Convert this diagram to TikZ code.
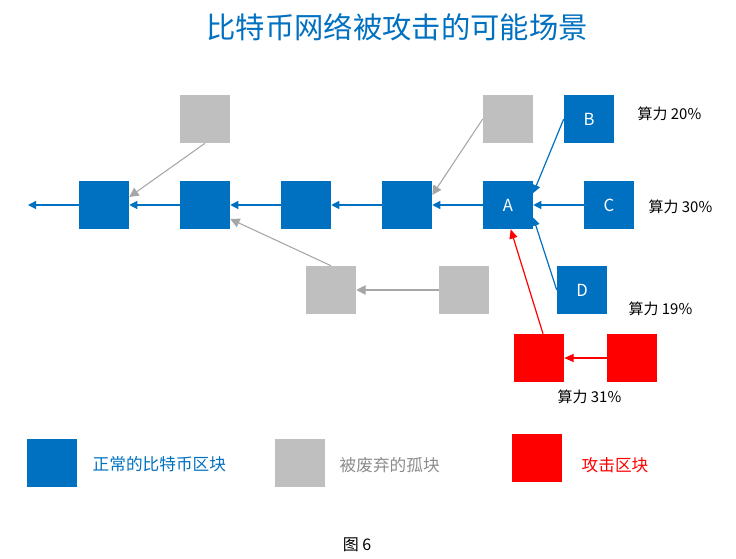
\documentclass[tikz,border=0pt]{standalone}
\usepackage{fontspec}
\newfontfamily\cjk{Noto Sans CJK SC}
\usetikzlibrary{arrows.meta}
\definecolor{chainblue}{HTML}{0070C0}
\definecolor{orphangray}{HTML}{BFBFBF}
\definecolor{orphanline}{HTML}{A6A6A6}
\definecolor{orphantext}{HTML}{8C8C8C}
\definecolor{attackred}{HTML}{FF0000}
\tikzset{
  blk/.style={minimum width=37.5pt, minimum height=36pt, inner sep=0pt, text=white,
    font=\cjk\fontsize{12.5}{14}\selectfont},
  bluearr/.style={draw=chainblue, line width=0.9pt, -{Triangle[length=6pt,width=6pt]}},
  grayarr/.style={draw=orphanline, line width=0.8pt, -{Triangle[length=7pt,width=7pt]}},
  redarr/.style={draw=attackred, line width=0.9pt, -{Triangle[length=7pt,width=6pt]}},
  power/.style={anchor=west, font=\cjk\fontsize{11.2}{13}\selectfont},
  legtext/.style={anchor=west, font=\cjk\fontsize{12.5}{15}\selectfont}
}
\begin{document}
\begin{tikzpicture}[x=0.75pt, y=-0.75pt]
  \useasboundingbox (0,0) rectangle (736,559);
  \node[font=\cjk\fontsize{22}{26}\selectfont, text=chainblue] (title) at (397,27) {比特币网络被攻击的可能场景};

  % main chain
  \foreach \n/\x in {b1/104,b2/205,b3/306,b4/407} {
    \node[blk, fill=chainblue] (\n) at (\x,205) {};
  }
  \node[blk, fill=chainblue] (A) at (508,205) {A};
  \node[blk, fill=chainblue] (B) at (589,119) {B};
  \node[blk, fill=chainblue] (C) at (609,205) {C};
  \node[blk, fill=chainblue] (D) at (582,290) {D};
  \coordinate (tail) at (28,205);

  % orphans
  \node[blk, fill=orphangray] (g1) at (205,119) {};
  \node[blk, fill=orphangray] (g2) at (331,290) {};
  \node[blk, fill=orphangray] (g3) at (508,119) {};
  \node[blk, fill=orphangray] (g4) at (464,290) {};

  % attacker
  \node[blk, fill=attackred] (r1) at (539,358) {};
  \node[blk, fill=attackred] (r2) at (632,358) {};

  \draw[bluearr] (b1.west) -- (tail);
  \foreach \a/\b in {b2/b1,b3/b2,b4/b3,A/b4,C/A} {
    \draw[bluearr] (\a.west) -- (\b.east);
  }
  \draw[bluearr] (B.west) -- ([yshift=9pt]A.east);
  \draw[bluearr] (D.west) -- ([yshift=-9.5pt]A.east);

  \draw[grayarr] (g1.south) -- ([yshift=6pt]b1.east);
  \draw[grayarr] (g2.north) -- ([yshift=-10.5pt]b2.east);
  \draw[grayarr] (g3.west) -- ([yshift=7.5pt]b4.east);
  \draw[grayarr] (g4.west) -- (g2.east);

  \draw[redarr] ([xshift=3pt]r1.north) -- ([xshift=2pt]A.south);
  \draw[redarr] (r2.west) -- (r1.east);

  \node[power] (pB) at (633,114) {算力 20\%};
  \node[power] (pC) at (644,207) {算力 30\%};
  \node[power] (pD) at (624,309) {算力 19\%};
  \node[power] (pR) at (553,397) {算力 31\%};

  % legend
  \node[blk, fill=chainblue] (key1) at (52,463) {};
  \node[blk, fill=orphangray] (key2) at (300,463) {};
  \node[blk, fill=attackred] (key3) at (537,458) {};
  \node[legtext, text=chainblue] (txt1) at (88,464) {正常的比特币区块};
  \node[legtext, text=orphantext] (txt2) at (335,465) {被废弃的孤块};
  \node[legtext, text=attackred] (txt3) at (577,465) {攻击区块};

  \node[font=\cjk\fontsize{12}{14}\selectfont] (cap) at (357,545) {图 6};
\end{tikzpicture}
\end{document}
